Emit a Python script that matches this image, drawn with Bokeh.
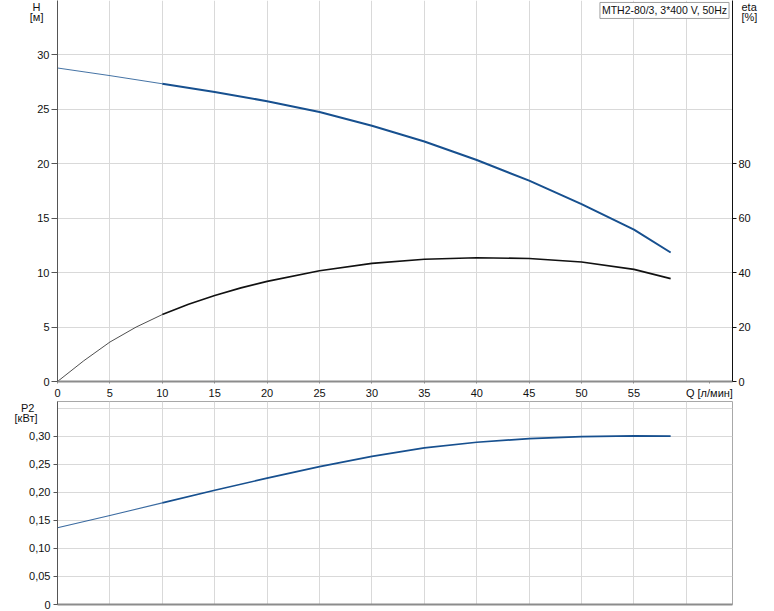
from bokeh.plotting import figure
from bokeh.models import Range1d, LinearAxis, FixedTicker, Label
from bokeh.layouts import column
from bokeh.embed import file_html
from bokeh.resources import INLINE

# ---- data ----
q = [0, 5, 10, 15, 20, 25, 30, 35, 40, 45, 50, 55, 58.5]
head = [28.8, 28.1, 27.35, 26.6, 25.75, 24.75, 23.5, 22.05, 20.35, 18.45, 16.3, 13.95, 11.85]
p2 = [0.1366, 0.1585, 0.1810, 0.2035, 0.2250, 0.2455, 0.2640, 0.2790, 0.2890, 0.2955, 0.2990, 0.3003, 0.3000]

q_eta = [0, 2.5, 5, 7.5, 10, 12.5, 15, 17.5, 20, 25, 30, 35, 40, 45, 50, 55, 58.5]
eta = [0, 7.6, 14.5, 20.0, 24.6, 28.4, 31.6, 34.4, 36.8, 40.7, 43.4, 44.9, 45.5, 45.2, 43.9, 41.2, 37.8]

q_ticks = [0, 5, 10, 15, 20, 25, 30, 35, 40, 45, 50, 55, 62.2]
q_tick_labels = ["0", "5", "10", "15", "20", "25", "30", "35", "40", "45", "50", "55", "Q [л/мин]"]
q_grid = [0, 5, 10, 15, 20, 25, 30, 35, 40, 45, 50, 55, 60]
h_ticks = [0, 5, 10, 15, 20, 25, 30]
h_grid = [0, 5, 10, 15, 20, 25, 30, 35]
eta_ticks = [0, 20, 40, 60, 80]
p2_ticks = [0, 0.05, 0.1, 0.15, 0.2, 0.25, 0.3]
p2_tick_labels = ["0", "0,05", "0,10", "0,15", "0,20", "0,25", "0,30"]
p2_grid = [0, 0.05, 0.1, 0.15, 0.2, 0.25, 0.3, 0.35]

# axis titles (name, unit) placed at the top of each axis
h_title_pos = [34.54, 33.46]
h_title = ["H\u00a0", "[м]"]
eta_title = ["eta", "[%]"]
p2_title_pos = [0.3557, 0.3319]
p2_title = ["P2\u00a0", "[кВт]"]

title_text = "MTH2-80/3, 3*400 V, 50Hz"

FONT = "Liberation Sans"
FS = "11px"
BLUE = "#17508f"
GRID = "#d9d9d9"

xr = Range1d(0, 64.4)


def base_axis(ax):
    ax.major_label_text_font = FONT
    ax.major_label_text_font_size = FS
    ax.major_label_text_color = "#111111"
    ax.minor_tick_line_color = None
    ax.major_tick_in = 0


def title_axis(ticks, labels, standoff, y_range_name="default"):
    ax = LinearAxis(ticker=FixedTicker(ticks=ticks), y_range_name=y_range_name,
                    major_label_overrides={t: l for t, l in zip(ticks, labels)})
    base_axis(ax)
    ax.axis_line_color = None
    ax.major_tick_line_color = None
    ax.major_tick_out = 0
    ax.major_label_standoff = standoff
    return ax


top = figure(frame_width=675, frame_height=381, x_range=xr, y_range=Range1d(0, 35),
             output_backend="svg", toolbar_location=None,
             min_border_left=57, min_border_right=42, min_border_top=0, min_border_bottom=19,
             outline_line_color=None, background_fill_color="white")
top.extra_y_ranges = {"eta": Range1d(0, 140)}

top.xaxis.ticker = FixedTicker(ticks=q_ticks)
top.xaxis.major_label_overrides = {t: l for t, l in zip(q_ticks, q_tick_labels)}
base_axis(top.xaxis)
top.xaxis.axis_line_color = "#8c8c8c"
top.xaxis.axis_line_width = 2
top.xaxis.major_tick_line_color = "#8c8c8c"
top.xaxis.major_tick_out = 2
top.xaxis.major_label_standoff = 3

top.yaxis.ticker = FixedTicker(ticks=h_ticks)
base_axis(top.yaxis)
top.yaxis.axis_line_color = "#555555"
top.yaxis.major_tick_line_color = "#555555"
top.yaxis.major_tick_out = 6
top.yaxis.major_label_standoff = 2
top.add_layout(title_axis(h_title_pos, h_title, -9), "left")

eta_axis = LinearAxis(y_range_name="eta", ticker=FixedTicker(ticks=eta_ticks))
base_axis(eta_axis)
eta_axis.axis_line_color = "#111111"
eta_axis.major_tick_line_color = "#111111"
eta_axis.major_tick_out = 4
eta_axis.major_label_standoff = 2
top.add_layout(eta_axis, "right")
top.add_layout(title_axis(h_title_pos, eta_title, -12), "right")

top.xgrid.ticker = FixedTicker(ticks=q_grid)
top.ygrid.ticker = FixedTicker(ticks=h_grid)
top.xgrid.grid_line_color = GRID
top.ygrid.grid_line_color = GRID

# H curve (thin first part, then thicker)
top.line(q[:3], head[:3], line_color=BLUE, line_width=1, line_alpha=0.8)
top.line(q[2:], head[2:], line_color=BLUE, line_width=2)
# eta curve
top.line(q_eta[:5], eta[:5], line_color="#222222", line_width=0.8, y_range_name="eta")
top.line(q_eta[4:], eta[4:], line_color="#111111", line_width=1.6, y_range_name="eta")

top.add_layout(Label(x=64.07, y=34.82, text=title_text, text_font=FONT, text_font_size="10.5px",
                     text_color="#111111", text_align="right", text_baseline="top",
                     background_fill_color="white", border_line_color="#a0a0a0",
                     padding=2, level="overlay"))

bot = figure(frame_width=675, frame_height=203, x_range=xr, y_range=Range1d(0, 0.3616),
             output_backend="svg", toolbar_location=None,
             min_border_left=57, min_border_right=42, min_border_top=0, min_border_bottom=8,
             outline_line_color="#a8a8a8", background_fill_color="white")
bot.xaxis.ticker = FixedTicker(ticks=[])
base_axis(bot.xaxis)
bot.xaxis.axis_line_color = "#8c8c8c"
bot.xaxis.axis_line_width = 2

bot.yaxis.ticker = FixedTicker(ticks=p2_ticks)
bot.yaxis.major_label_overrides = {t: l for t, l in zip(p2_ticks, p2_tick_labels)}
base_axis(bot.yaxis)
bot.yaxis.axis_line_color = "#555555"
bot.yaxis.major_tick_line_color = "#555555"
bot.yaxis.major_tick_out = 4
bot.yaxis.major_label_standoff = 3
bot.add_layout(title_axis(p2_title_pos, p2_title, -11), "left")

bot.xgrid.ticker = FixedTicker(ticks=q_grid)
bot.ygrid.ticker = FixedTicker(ticks=p2_grid)
bot.xgrid.grid_line_color = GRID
bot.ygrid.grid_line_color = GRID

bot.line(q[:3], p2[:3], line_color=BLUE, line_width=1.1, line_alpha=0.85)
bot.line(q[2:], p2[2:], line_color=BLUE, line_width=1.7)

layout = column(top, bot, spacing=0)
open("out.html", "w").write(file_html(layout, INLINE))
